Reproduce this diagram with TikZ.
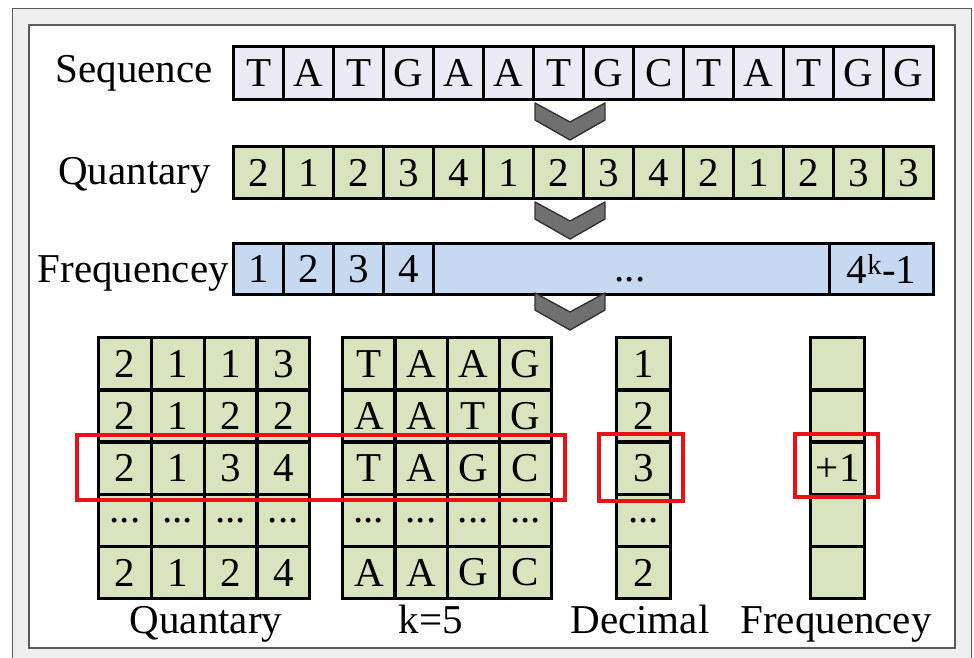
\documentclass[tikz,border=0pt]{standalone}
\usepackage{fontspec}
\setmainfont{Liberation Serif}
\newfontfamily\labelface{Liberation Serif}
\definecolor{seqfill}{RGB}{235,233,243}
\definecolor{qfill}{RGB}{216,228,190}
\definecolor{ffill}{RGB}{198,217,240}
\definecolor{chevfill}{RGB}{112,112,112}
\definecolor{panelgray}{RGB}{239,239,239}
\definecolor{framegray}{RGB}{90,90,90}
\definecolor{hilite}{RGB}{232,18,24}
% three dots for the elided rows (kept out of \foreach range syntax)
\newcommand{\cellDots}{...}
\begin{document}
\begin{tikzpicture}[x=1pt,y=-1pt,
  bigfont/.style={font=\labelface\fontsize{41}{45}\selectfont},
  cellbase/.style={draw=black, line width=3.4pt, inner sep=0pt, anchor=north west, bigfont},
  seqcell/.style={cellbase, fill=seqfill, minimum width=50pt, minimum height=53pt},
  qcell/.style={cellbase, fill=qfill, minimum width=50pt, minimum height=52pt},
  fcell/.style={cellbase, fill=ffill, minimum height=51pt},
  gcell/.style={cellbase, fill=qfill, minimum width=#1, minimum height=52.2pt},
  rowlabel/.style={bigfont, inner sep=0pt, anchor=base east},
  collabel/.style={bigfont, inner sep=0pt, anchor=base},
  hibox/.style={draw=hilite, line width=3.6pt},
  chevron/.pic={
    \draw[fill=chevfill, draw=black!80, line width=1.4pt, line join=round]
      (-35,0) -- (-35,17) -- (0,37) -- (35,17) -- (35,0) -- (0,19) -- cycle;
  }]

\useasboundingbox (0,0) rectangle (974,658);

% frame: grey panel with a white inner sheet
\fill[panelgray] (12.5,8.5) rectangle (971.5,658);
\draw[framegray, line width=1pt] (12.5,658) -- (12.5,8.5) -- (971.5,8.5) -- (971.5,658);
\draw[fill=white, draw=framegray, line width=1.2pt] (29,25) rectangle (955,648);

% row labels
\node[rowlabel] (lseq) at (213,83) {Sequence};
\node[rowlabel] (lqua) at (211,184) {Quantary};
\node[rowlabel] (lfre) at (229,282) {Frequencey};

% sequence row
\foreach \l [count=\i from 0] in {T,A,T,G,A,A,T,G,C,T,A,T,G,G}
  \node[seqcell] (s\i) at ({232+50*\i},45) {\l};

% quantary row
\foreach \l [count=\i from 0] in {2,1,2,3,4,1,2,3,4,2,1,2,3,3}
  \node[qcell] (q\i) at ({232+50*\i},145) {\l};

% frequency row
\foreach \l [count=\i from 0] in {1,2,3,4}
  \node[fcell, minimum width=50pt] (f\i) at ({232+50*\i},242) {\l};
\node[fcell, minimum width=396pt] (fmid) at (432,242) {};
\node[bigfont, inner sep=0pt, anchor=base] (fdots) at (630,281) {\cellDots};
\node[fcell, minimum width=104pt] (flast) at (828,242) {4\textsuperscript{k}-1};

% chevrons between the stages
\pic at (570,103) {chevron};
\pic at (570,202) {chevron};
\pic at (570,293) {chevron};

% quantary k-mer grid
\foreach \row [count=\r from 0] in {{2,1,1,3},{2,1,2,2},{2,1,3,4},{\cellDots,\cellDots,\cellDots,\cellDots},{2,1,2,4}}
  \foreach \v [count=\c from 0] in \row
    \node[gcell=52.75pt] (qg-\r-\c) at ({97+52.75*\c},{336+52.2*\r}) {\v};

% nucleotide k-mer grid
\foreach \row [count=\r from 0] in {{T,A,A,G},{A,A,T,G},{T,A,G,C},{\cellDots,\cellDots,\cellDots,\cellDots},{A,A,G,C}}
  \foreach \v [count=\c from 0] in \row
    \node[gcell=52.25pt] (kg-\r-\c) at ({341+52.25*\c},{336+52.2*\r}) {\v};

% decimal column
\foreach \v [count=\r from 0] in {1,2,3,\cellDots,2}
  \node[gcell=54pt] (d\r) at (615,{336+52.2*\r}) {\v};

% frequency column
\foreach \v [count=\r from 0] in {{},{},{+1},{},{}}
  \node[gcell=54pt] (fc\r) at (809,{336+52.2*\r}) {\v};

% column labels
\node[collabel] (cq) at (206,633) {Quantary};
\node[collabel] (ck) at (431,633) {k=5};
\node[collabel] (cd) at (640,633) {Decimal};
\node[collabel] (cf) at (836,633) {Frequencey};

% highlighted k-mer
\draw[hibox] (77,435) rectangle (565,500);
\draw[hibox] (599,434) rectangle (683,501);
\draw[hibox] (795,434) rectangle (878,497);

\end{tikzpicture}
\end{document}
